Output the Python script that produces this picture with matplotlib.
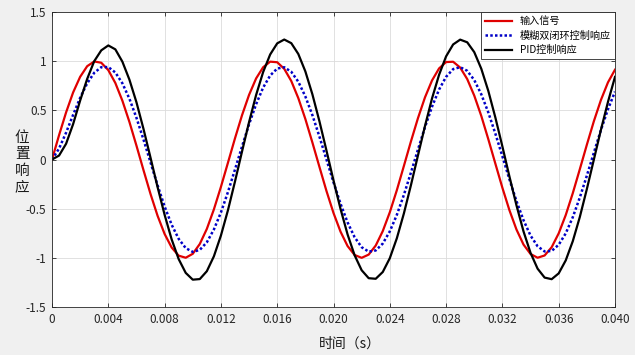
#Importation des bibliothèques
import numpy as np
import matplotlib
matplotlib.use('Agg')
import matplotlib.pyplot as plt

plt.rcParams['font.family'] = ['Noto Sans CJK SC', 'DejaVu Sans']
plt.rcParams['axes.unicode_minus'] = False

# Valeurs, un point tous les 0.0005 s de 0 à 0.040 s
entree = [
    0.000, 0.247, 0.479, 0.682, 0.841, 0.949, 0.997, 0.984, 0.909, 0.778,
    0.598, 0.382, 0.141, -0.108, -0.351, -0.572, -0.757, -0.895, -0.978, -0.999,
    -0.959, -0.859, -0.706, -0.508, -0.279, -0.033, 0.215, 0.450, 0.657, 0.824,
    0.938, 0.995, 0.989, 0.922, 0.798, 0.624, 0.412, 0.173, -0.075, -0.320,
    -0.544, -0.734, -0.880, -0.971, -1.000, -0.967, -0.875, -0.728, -0.537, -0.312,
    -0.066, 0.183, 0.420, 0.632, 0.804, 0.926, 0.991, 0.994, 0.935, 0.818,
    0.650, 0.443, 0.206, -0.042, -0.288, -0.516, -0.712, -0.865, -0.961, -0.999,
    -0.976, -0.892, -0.751, -0.565, -0.343, -0.099, 0.150, 0.390, 0.605, 0.784,
    0.913]

flou = [
    0.000, 0.111, 0.273, 0.454, 0.628, 0.775, 0.882, 0.939, 0.940, 0.885,
    0.775, 0.618, 0.424, 0.203, -0.030, -0.262, -0.478, -0.663, -0.807, -0.901,
    -0.940, -0.919, -0.842, -0.712, -0.539, -0.331, -0.102, 0.132, 0.358, 0.562,
    0.731, 0.854, 0.925, 0.938, 0.892, 0.791, 0.641, 0.451, 0.233, 0.000,
    -0.232, -0.450, -0.640, -0.790, -0.892, -0.937, -0.925, -0.855, -0.731, -0.563,
    -0.360, -0.134, 0.101, 0.329, 0.537, 0.711, 0.841, 0.919, 0.939, 0.902,
    0.808, 0.663, 0.478, 0.263, 0.032, -0.202, -0.423, -0.617, -0.774, -0.882,
    -0.935, -0.930, -0.867, -0.751, -0.587, -0.387, -0.164, 0.070, 0.300, 0.511,
    0.690]

pid = [
    0.000, 0.040, 0.160, 0.360, 0.600, 0.820, 1.000, 1.110, 1.160, 1.120,
    0.995, 0.812, 0.582, 0.311, 0.018, -0.280, -0.562, -0.812, -1.013, -1.153,
    -1.222, -1.216, -1.136, -0.985, -0.774, -0.516, -0.224, 0.081, 0.380, 0.655,
    0.889, 1.068, 1.181, 1.220, 1.183, 1.073, 0.896, 0.663, 0.389, 0.091,
    -0.213, -0.503, -0.762, -0.974, -1.126, -1.207, -1.213, -1.144, -1.004, -0.801,
    -0.549, -0.262, 0.041, 0.341, 0.621, 0.861, 1.049, 1.170, 1.219, 1.192,
    1.092, 0.923, 0.697, 0.427, 0.132, -0.173, -0.466, -0.731, -0.950, -1.110,
    -1.201, -1.217, -1.158, -1.026, -0.831, -0.585, -0.301, 0.000, 0.302, 0.585,
    0.840]

t = np.linspace(0, 0.040, len(entree))

xticks = [0, 0.004, 0.008, 0.012, 0.016, 0.020, 0.024, 0.028, 0.032, 0.036, 0.040]
xtick_labels = ['0', '0.004', '0.008', '0.012', '0.016', '0.020', '0.024',
                '0.028', '0.032', '0.036', '0.040']
yticks = [-1.5, -1, -0.5, 0, 0.5, 1, 1.5]
ytick_labels = ['-1.5', '-1', '-0.5', '0', '0.5', '1', '1.5']

# Tracé
fig = plt.figure(figsize=(6.35, 3.55), dpi=100, facecolor='#f0f0f0')
ax = fig.add_axes([0.0819, 0.1352, 0.8866, 0.8310])

ax.plot(t, entree, color='#e00000', linewidth=1.6, label='输入信号')
ax.plot(t, flou, color='#0000c8', linewidth=1.8, linestyle=(0, (1, 0.9)),
        label='模糊双闭环控制响应')
ax.plot(t, pid, color='black', linewidth=1.6, label='PID控制响应')

ax.set_xlim(0, 0.040)
ax.set_ylim(-1.5, 1.5)
ax.set_xticks(xticks)
ax.set_xticklabels(xtick_labels)
ax.set_yticks(yticks)
ax.set_yticklabels(ytick_labels)
ax.tick_params(direction='in', top=True, right=True, length=3, width=0.6,
               labelsize=8.5, colors='#262626', pad=4)
ax.grid(True, color='#dcdcdc', linewidth=0.6)
ax.set_axisbelow(True)
for s in ax.spines.values():
    s.set_color('#262626')
    s.set_linewidth(0.6)

ax.set_xlabel('时间（s）', fontsize=10, color='#1a1a1a')
ax.xaxis.set_label_coords(0.529, -0.125)
ax.xaxis.label.set_va('center')
ax.set_ylabel('位\n置\n响\n应', rotation=0, fontsize=10.5, color='#1a1a1a',
              linespacing=1.2, va='center', ha='center')
ax.yaxis.set_label_coords(-0.053, 0.49)

leg = ax.legend(loc='upper right', borderaxespad=0, fancybox=False,
                edgecolor='#262626', framealpha=1, fontsize=7.3,
                handlelength=2.6, labelspacing=0.42, borderpad=0.42,
                handletextpad=0.8)
leg.get_frame().set_linewidth(0.6)

plt.savefig('out.png', dpi=100, facecolor=fig.get_facecolor())
